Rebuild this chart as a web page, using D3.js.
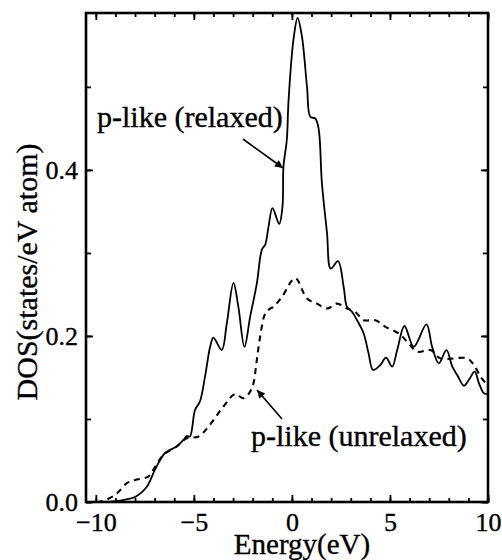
<!DOCTYPE html>
<html>
<head>
<meta charset="utf-8">
<script src="https://cdn.jsdelivr.net/npm/d3@7/dist/d3.min.js"></script>
<style>
  html, body { margin: 0; padding: 0; background: #fff; }
  svg { display: block; }
</style>
</head>
<body>
<svg id="chart" width="502" height="560"></svg>
<script>
// ---- data ----
const energyRelaxed = [-10.5, -9.5, -9.0, -8.5, -8.0, -7.41, -6.98, -6.47, -5.88, -5.45, -5.37, -5.2, -4.94, -4.69, -4.43, -4.17, -4.0, -3.58, -3.32, -2.98, -2.73, -2.42, -2.13, -1.79, -1.53, -1.36, -1.19, -0.99, -0.65, -0.48, -0.43, -0.26, -0.17, 0.08, 0.29, 0.51, 0.77, 0.94, 1.19, 1.36, 1.53, 1.79, 1.98, 2.35, 2.64, 2.81, 3.07, 3.32, 3.66, 3.91, 4.14, 4.51, 4.80, 5.11, 5.37, 5.74, 6.21, 6.86, 7.15, 7.49, 7.88, 8.18, 8.43, 8.77, 9.02, 9.32, 9.54, 9.79, 10.0];
const dosRelaxed    = [0.0, 0.0, 0.001, 0.003, 0.006, 0.018, 0.039, 0.059, 0.067, 0.077, 0.0795, 0.079, 0.111, 0.121, 0.151, 0.187, 0.198, 0.183, 0.215, 0.264, 0.235, 0.187, 0.223, 0.263, 0.304, 0.31, 0.332, 0.354, 0.335, 0.356, 0.404, 0.436, 0.484, 0.557, 0.583, 0.561, 0.500, 0.464, 0.462, 0.450, 0.384, 0.324, 0.281, 0.290, 0.259, 0.235, 0.229, 0.219, 0.203, 0.179, 0.159, 0.165, 0.174, 0.163, 0.183, 0.212, 0.187, 0.214, 0.187, 0.167, 0.183, 0.163, 0.153, 0.140, 0.147, 0.157, 0.143, 0.131, 0.130];

const energyUnrelaxed = [-10.5, -9.9, -9.53, -8.94, -8.43, -8.0, -7.33, -7.07, -6.56, -5.88, -5.37, -4.77, -4.26, -3.49, -2.9, -2.47, -2.13, -1.96, -1.79, -1.62, -1.36, -1.11, -0.94, -0.51, 0.17, 0.77, 1.28, 1.79, 2.30, 2.81, 3.23, 3.66, 4.26, 4.77, 5.45, 5.88, 6.39, 7.07, 7.58, 8.94, 9.28, 9.62, 10.0];
const dosUnrelaxed    = [0.0, 0.0, 0.002, 0.010, 0.0225, 0.0265, 0.0305, 0.0386, 0.0566, 0.0667, 0.0767, 0.0787, 0.0907, 0.115, 0.130, 0.125, 0.133, 0.143, 0.171, 0.199, 0.227, 0.233, 0.235, 0.247, 0.2695, 0.245, 0.239, 0.233, 0.239, 0.233, 0.229, 0.219, 0.219, 0.211, 0.203, 0.193, 0.181, 0.183, 0.173, 0.173, 0.165, 0.151, 0.140];

const xMajorTicks = [-10, -5, 0, 5, 10];
const xMinorTicks = [-10, -9, -8, -7, -6, -5, -4, -3, -2, -1, 0, 1, 2, 3, 4, 5, 6, 7, 8, 9, 10];
const yMajorTicks = [0.0, 0.2, 0.4];
const yMinorTicks = [0.0, 0.1, 0.2, 0.3, 0.4, 0.5];
const xTitle = "Energy(eV)";
const yTitle = "DOS(states/eV atom)";
const labelRelaxed = "p-like (relaxed)";
const labelUnrelaxed = "p-like (unrelaxed)";

(function () {
// ---- layout ----
const pL = 86, pR = 488, pT = 13, pB = 502;
const svg = d3.select("#chart");
const FONT = '"Liberation Serif", "Times New Roman", serif';

const x = d3.scaleLinear().domain([-10.5, 10]).range([pL, pR]);
const y = d3.scaleLinear().domain([0, 0.589]).range([pB, pT]);

svg.append("clipPath").attr("id", "clip")
  .append("rect").attr("x", pL).attr("y", pT).attr("width", pR - pL).attr("height", pB - pT);

const line = d3.line().x(d => x(d[0])).y(d => y(d[1])).curve(d3.curveCatmullRom.alpha(0.5));

const g = svg.append("g").attr("clip-path", "url(#clip)");
g.append("path")
  .datum(energyUnrelaxed.map((e, i) => [e, dosUnrelaxed[i]]))
  .attr("d", line).attr("fill", "none").attr("stroke", "#000")
  .attr("stroke-width", 2.1).attr("stroke-dasharray", "6,5");
g.append("path")
  .datum(energyRelaxed.map((e, i) => [e, dosRelaxed[i]]))
  .attr("d", line).attr("fill", "none").attr("stroke", "#000")
  .attr("stroke-width", 1.8);

// ---- axes with inward ticks on all four sides ----
const fmt = d3.format(".1f");
function tickAxis(axisGen, tx, ty) {
  return svg.append("g").attr("transform", `translate(${tx},${ty})`).call(axisGen)
    .call(s => s.select(".domain").remove())
    .call(s => s.selectAll("line").attr("stroke", "#000").attr("stroke-width", 1.8));
}
function styleText(sel, size) {
  sel.style("font-family", FONT).style("font-size", size + "px")
    .attr("fill", "#000").attr("stroke", "#000").attr("stroke-width", 0.35);
}
tickAxis(d3.axisBottom(x).tickValues(xMinorTicks).tickSize(-4).tickFormat(""), 0, pB);
tickAxis(d3.axisTop(x).tickValues(xMinorTicks).tickSize(-4).tickFormat(""), 0, pT);
tickAxis(d3.axisLeft(y).tickValues(yMinorTicks).tickSize(-5).tickFormat(""), pL, 0);
tickAxis(d3.axisRight(y).tickValues(yMinorTicks).tickSize(-5).tickFormat(""), pR, 0);
const xb = tickAxis(d3.axisBottom(x).tickValues(xMajorTicks).tickSize(-7).tickPadding(11).tickFormat(d => d3.format("d")(d)), 0, pB);
styleText(xb.selectAll("text"), 26);
tickAxis(d3.axisTop(x).tickValues(xMajorTicks).tickSize(-7).tickFormat(""), 0, pT);
const yl = tickAxis(d3.axisLeft(y).tickValues(yMajorTicks).tickSize(-7).tickPadding(8).tickFormat(fmt), pL, 0);
styleText(yl.selectAll("text"), 26);
tickAxis(d3.axisRight(y).tickValues(yMajorTicks).tickSize(-7).tickFormat(""), pR, 0);

svg.append("rect").attr("x", pL).attr("y", pT).attr("width", pR - pL).attr("height", pB - pT)
  .attr("fill", "none").attr("stroke", "#000").attr("stroke-width", 2.6);

function label(xp, yp, txt, size, anchor) {
  const t = svg.append("text").attr("x", xp).attr("y", yp).attr("text-anchor", anchor || "start").text(txt);
  styleText(t, size);
  return t;
}
label(302, 554, xTitle, 29, "middle");
label(0, 0, yTitle, 30, "middle").attr("transform", "translate(37,272) rotate(-90)");
label(97, 127, labelRelaxed, 30);
label(251, 446, labelUnrelaxed, 30);

const defs = svg.append("defs");
defs.append("marker").attr("id", "arrow").attr("viewBox", "0 0 10 10").attr("refX", 10).attr("refY", 5)
  .attr("markerWidth", 10).attr("markerHeight", 8).attr("markerUnits", "userSpaceOnUse").attr("orient", "auto")
  .append("path").attr("d", "M0,0 L10,5 L0,10 z").attr("fill", "#000");

svg.append("line").attr("x1", 243).attr("y1", 139).attr("x2", 283).attr("y2", 168)
  .attr("stroke", "#000").attr("stroke-width", 1.6).attr("marker-end", "url(#arrow)");
svg.append("line").attr("x1", 282).attr("y1", 419).attr("x2", 257).attr("y2", 390)
  .attr("stroke", "#000").attr("stroke-width", 1.6).attr("marker-end", "url(#arrow)");
})();
</script>
</body>
</html>
